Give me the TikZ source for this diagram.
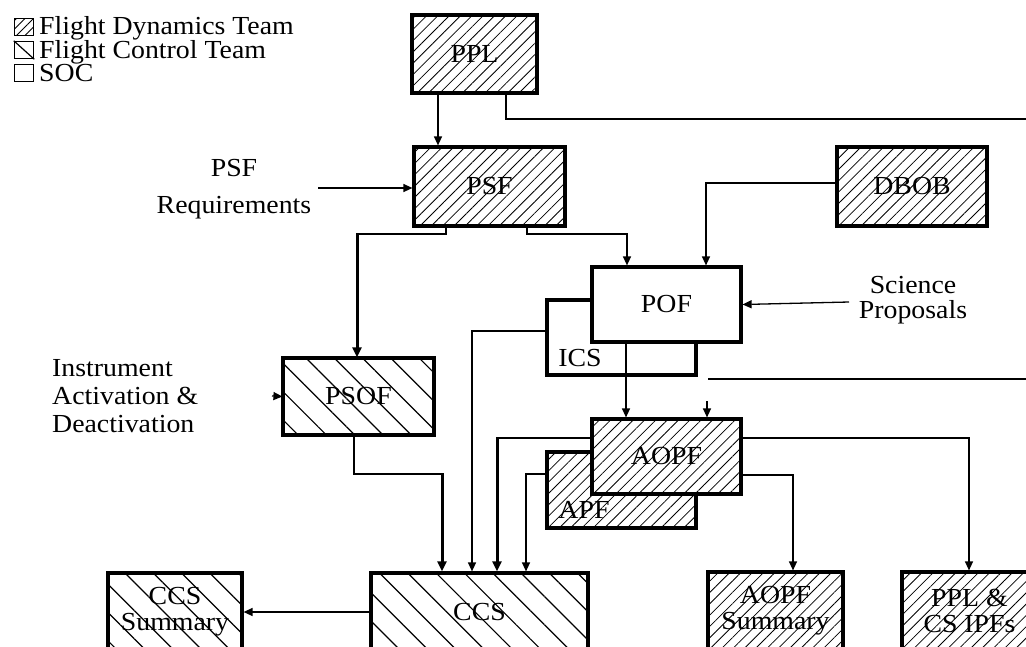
\documentclass[tikz,border=0pt]{standalone}
\usepackage{fontspec}
\setmainfont{Liberation Serif}[FakeStretch=1.07]
\usetikzlibrary{patterns.meta,arrows.meta}
\begin{document}
\begin{tikzpicture}[x=1pt,y=-1pt, font=\fontsize{26}{26}\selectfont,
 sz/.style 2 args={minimum width=#1pt,minimum height=#2pt},
 box/.style={draw,line width=3.2pt,inner sep=0pt,align=center},
 fdt/.style={box,preaction={fill=white},pattern={Lines[angle=45,distance=8pt,line width=0.8pt]}},
 fct/.style={box,preaction={fill=white},pattern={Lines[angle=-45,distance=20pt,line width=1.2pt]}},
 soc/.style={box,fill=white},
 lbl/.style={inner sep=0pt},
 conn/.style={line width=1.3pt,-{Triangle[length=9pt,width=8pt]}},
 thickarrow/.style={line width=3pt,-{Triangle[length=10pt,width=9pt]}},
 thinline/.style={line width=1.3pt},
]
\clip (0,0) rectangle (1026,646);
% legend
\node[fdt,line width=1.5pt,sz={19}{17},pattern={Lines[angle=45,distance=6pt,line width=0.8pt]}] (lg1) at (24,27) {};
\node[box,line width=1.5pt,sz={19}{17}] (lg2) at (24,50) {};
\draw[line width=1.2pt] (lg2.north west) -- (lg2.south east);
\node[soc,line width=1.5pt,sz={19}{17}] (lg3) at (24,73) {};
\node[lbl,anchor=north west,align=left,font=\fontsize{26}{23}\selectfont] (legend) at (39,16) {Flight Dynamics Team\\Flight Control Team\\SOC};
% boxes
\node[fdt,sz={125}{78}] (ppl) at (474.5,54) {PPL};
\node[fdt,sz={151}{79}] (psf) at (489.5,186.5) {PSF};
\node[fdt,sz={150}{79}] (dbob) at (912,186.5) {DBOB};
\node[soc,sz={149}{75}] (ics) at (621.5,337.5) {};
\node[lbl] (icst) at (580,358) {ICS};
\node[soc,sz={149}{75}] (pof) at (666.5,304.5) {POF};
\node[fct,sz={151}{77}] (psof) at (358.5,396.5) {PSOF};
\node[fdt,sz={149}{76}] (apf) at (621.5,490) {};
\node[lbl] (apft) at (584,510) {APF};
\node[fdt,sz={149}{75}] (aopf) at (666.5,456.5) {AOPF};
\node[fct,sz={134}{78}] (ccssum) at (175,612) {CCS\\Summary};
\node[fct,sz={217}{78}] (ccs) at (479.5,612) {CCS};
\node[fdt,sz={135}{78}] (aopfsum) at (775.5,611) {AOPF\\Summary};
\node[fdt,sz={135}{78}] (ipfs) at (969.5,611) {PPL \&\\CS IPFs};
% labels
\node[lbl,align=center,font=\fontsize{26}{37}\selectfont] (psfreq) at (234,189) {PSF\\Requirements};
\node[lbl,align=left,anchor=west,font=\fontsize{26}{28}\selectfont] (instr) at (52,396) {Instrument\\Activation \&\\Deactivation};
\node[lbl,align=center,font=\fontsize{26}{25}\selectfont] (sci) at (913,300) {Science\\Proposals};
\coordinate (psfin) at (318,188);
\coordinate (instin) at (272,396);
\coordinate (sciin) at (849,302);
\coordinate (pplout) at (1030,119);
\coordinate (rin) at (1030,379);
\coordinate (rend) at (708,379);
\coordinate (aopfin) at (707,401);
% connectors
\draw[conn] (438,0 |- ppl.south) -- (438,0 |- psf.north);
\draw[thinline] (506,0 |- ppl.south) |- (pplout);
\draw[conn] (psfin) -- (psf.west |- psfin);
\draw[thinline] (446,0 |- psf.south) |- (357,234);
\draw[thickarrow] (357,233) -- (357,0 |- psof.north);
\draw[conn] (527,0 |- psf.south) |- (627,234) -- (627,0 |- pof.north);
\draw[conn] (dbob.west |- 0,183) -| (706,0 |- pof.north);
\draw[conn] (sciin) -- (pof.east);
\draw[conn] (instin) -- (psof.west);
\draw[conn] (626,0 |- pof.south) -- (626,0 |- aopf.north);
\draw[thinline] (rin) -- (rend);
\draw[conn] (aopfin) -- (aopfin |- aopf.north);
\draw[conn] (ics.west |- 0,331) -| (472,0 |- ccs.north);
\draw[thinline] (354,0 |- psof.south) |- (442,474);
\draw[thickarrow] (442,473) -- (442,0 |- ccs.north);
\draw[thinline] (aopf.west |- 0,438) -| (497,440);
\draw[thickarrow] (497,437) -- (497,0 |- ccs.north);
\draw[conn] (apf.west |- 0,474) -| (526,0 |- ccs.north);
\draw[conn] (aopf.east |- 0,475) -| (793,0 |- aopfsum.north);
\draw[conn] (aopf.east |- 0,438) -| (969,0 |- ipfs.north);
\draw[conn] (ccs.west |- 0,612) -- (ccssum.east |- 0,612);
\end{tikzpicture}
\end{document}
